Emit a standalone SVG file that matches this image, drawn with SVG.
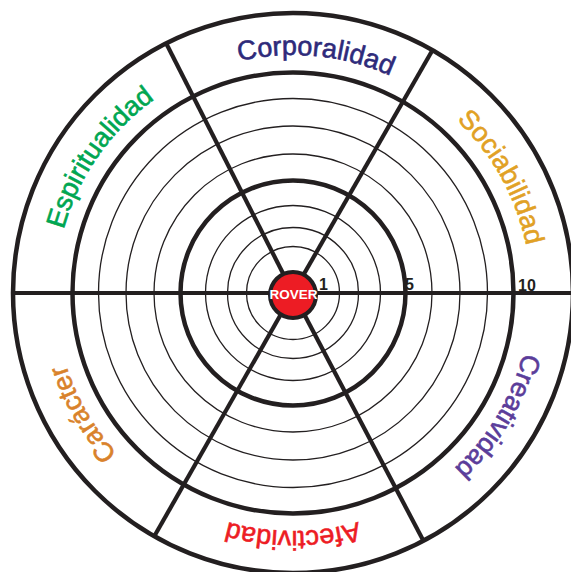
<svg xmlns="http://www.w3.org/2000/svg" xmlns:xlink="http://www.w3.org/1999/xlink" width="571" height="572" viewBox="0 0 571 572">
<style>
.thin{fill:none;stroke:#231f20;stroke-width:1.3}
.thick{fill:none;stroke:#231f20;stroke-width:4.5}
.spoke{stroke:#231f20;stroke-width:4.2;stroke-linecap:butt}
.lbl{font-family:"Liberation Sans",Arial,Helvetica,sans-serif;font-size:27px;text-anchor:middle;stroke-width:0.6}
.num{font-family:"Liberation Sans",Arial,Helvetica,sans-serif;font-size:16px;font-weight:bold;fill:#231f20}
</style>
<defs>
<path id="ring" d="M531,293 A238,238 0 1,1 55,293 A238,238 0 1,1 531,293"/>
</defs>
<rect width="571" height="572" fill="#ffffff"/>
<g id="rings">
<circle class="thin" cx="293" cy="293" r="46.5"/>
<circle class="thin" cx="293" cy="293" r="65.5"/>
<circle class="thin" cx="293" cy="293" r="87.5"/>
<circle class="thick" cx="293" cy="293" r="112.5"/>
<circle class="thin" cx="293" cy="293" r="139"/>
<circle class="thin" cx="293" cy="293" r="167"/>
<circle class="thin" cx="293" cy="293" r="194.5"/>
<circle class="thick" cx="293" cy="293" r="220.5"/>
<circle class="thick" cx="293" cy="293" r="280" stroke-width="4"/>
</g>
<g id="connectors">
<line class="spoke" x1="13" y1="293" x2="571" y2="293" stroke-width="4.5"/>
<line class="spoke" x1="293" y1="293" x2="166" y2="43"/>
<line class="spoke" x1="293" y1="293" x2="432" y2="51"/>
<line class="spoke" x1="293" y1="293" x2="155" y2="535"/>
<line class="spoke" x1="293" y1="293" x2="423" y2="540"/>
</g>
<g id="scale">
<text class="num" x="319" y="290">1</text>
<text class="num" x="405" y="290">5</text>
<text class="num" x="518" y="291">10</text>
</g>
<g id="center">
<circle cx="293" cy="295" r="23" fill="#ed1c24" stroke="#231f20" stroke-width="4"/>
<text x="293.5" y="298.5" font-family="'Liberation Sans',Arial,Helvetica,sans-serif" font-size="13.5" font-weight="bold" fill="#ffffff" text-anchor="middle">ROVER</text>
</g>
<g id="corporalidad"><text class="lbl" fill="#2e2a7a" stroke="#2e2a7a"><textPath xlink:href="#ring" href="#ring" startOffset="76.53%">Corporalidad</textPath></text></g>
<g id="sociabilidad"><text class="lbl" fill="#e1a125" stroke="#e1a125"><textPath xlink:href="#ring" href="#ring" startOffset="91.94%">Sociabilidad</textPath></text></g>
<g id="creatividad"><text class="lbl" fill="#5b3d9a" stroke="#5b3d9a"><textPath xlink:href="#ring" href="#ring" startOffset="8.61%">Creatividad</textPath></text></g>
<g id="afectividad"><text class="lbl" fill="#ed1c24" stroke="#ed1c24"><textPath xlink:href="#ring" href="#ring" startOffset="25%">Afectividad</textPath></text></g>
<g id="caracter"><text class="lbl" fill="#d9822b" stroke="#d9822b"><textPath xlink:href="#ring" href="#ring" startOffset="41.67%">Carácter</textPath></text></g>
<g id="espiritualidad"><text class="lbl" fill="#00a651" stroke="#00a651"><textPath xlink:href="#ring" href="#ring" startOffset="59.72%">Espiritualidad</textPath></text></g>
</svg>
